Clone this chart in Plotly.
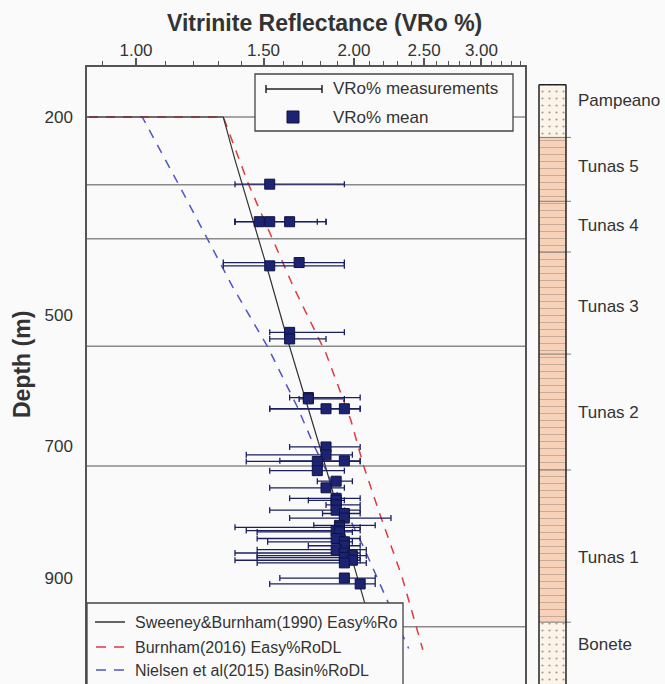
import plotly.graph_objects as go

# ---------------- data ----------------
# VRo measurements: depth (m), mean, min, max (VRo %)
depth = [302, 359, 359, 359, 421, 426, 527, 537, 626, 628, 643, 643, 701, 713, 722, 723,
         737, 753, 763, 779, 782, 789, 797, 802, 809, 820, 823, 828, 830, 840, 845, 851,
         857, 862, 866, 869, 873, 877, 900, 909]
vro_mean = [1.53, 1.48, 1.53, 1.63, 1.68, 1.53, 1.63, 1.63, 1.73, 1.73, 1.83, 1.94, 1.83, 1.83, 1.94, 1.78,
            1.78, 1.89, 1.83, 1.89, 1.89, 1.89, 1.89, 1.94, 1.94, 1.91, 1.91, 1.89, 1.91, 1.89, 1.94, 1.94,
            1.89, 1.94, 1.99, 1.94, 1.99, 1.94, 1.94, 2.04]
vro_min = [1.37, 1.37, 1.37, 1.37, 1.32, 1.32, 1.53, 1.53, 1.63, 1.68, 1.53, 1.53, 1.63, 1.42, 1.58, 1.42,
           1.53, 1.78, 1.53, 1.63, 1.73, 1.83, 1.53, 1.81, 1.63, 1.76, 1.37, 1.42, 1.47, 1.47, 1.52, 1.73,
           1.47, 1.37, 1.47, 1.47, 1.37, 1.47, 1.58, 1.53]
vro_max = [1.94, 1.78, 1.83, 1.83, 1.94, 1.94, 1.94, 1.83, 2.04, 1.94, 2.04, 2.04, 2.04, 1.99, 2.04, 2.04,
           1.94, 1.99, 1.94, 2.04, 1.94, 2.04, 2.04, 2.04, 2.25, 2.14, 2.04, 2.04, 1.99, 2.04, 1.99, 2.04,
           2.08, 2.04, 2.08, 2.04, 2.04, 2.08, 2.14, 2.14]

# Model curves
sb_depth = [200, 200, 265, 432, 539, 706, 938, 1009]
sb_vro = [0.2, 1.32, 1.37, 1.52, 1.62, 1.80, 2.07, 2.16]
bu_depth = [200, 200, 302, 458, 559, 660, 728, 802, 898, 1009]
bu_vro = [0.2, 1.32, 1.43, 1.65, 1.83, 1.98, 2.06, 2.17, 2.33, 2.49]
ni_depth = [200, 200, 306, 382, 458, 549, 640, 698, 852, 1007]
ni_vro = [0.2, 1.02, 1.15, 1.25, 1.36, 1.52, 1.67, 1.76, 2.06, 2.38]

# Formation boundary lines in the profile (m)
boundary_depths = [200, 303, 385, 548, 730, 974]

# Lithology column
units = ["Pampeano", "Tunas 5", "Tunas 4", "Tunas 3", "Tunas 2", "Tunas 1", "Bonete"]
unit_top = [151, 231, 328, 405, 560, 736, 967]
unit_base = [231, 328, 405, 560, 736, 967, 1100]

# Axis ticks
x_ticks = [1.0, 1.5, 2.0, 2.5, 3.0]
x_ticklabels = ["1.00", "1.50", "2.00", "2.50", "3.00"]
x_minor = [0.9, 1.1, 1.2, 1.3, 1.4, 1.6, 1.7, 1.8, 1.9, 2.1, 2.2, 2.3, 2.4,
           2.6, 2.7, 2.8, 2.9, 3.1, 3.2, 3.3, 3.4]
y_ticks = [200, 500, 700, 900]

# ---------------- layout helpers ----------------
W, H, L, T = 665, 684, 87, 67
PW, PH = W - L, H - T


def px(x):
    return (x - L) / PW


def py(y):
    return (H - y) / PH


FONT = "Liberation Sans, Arial, sans-serif"
TXT = "#333333"
BG = "#fafafa"
NAVY = "#1c2472"

fig = go.Figure()

# model curves
fig.add_trace(go.Scatter(x=ni_vro, y=ni_depth, mode="lines", showlegend=False,
                         line=dict(color="#4f55c4", width=1.5, dash="9px,8px")))
fig.add_trace(go.Scatter(x=bu_vro, y=bu_depth, mode="lines", showlegend=False,
                         line=dict(color="#e0393e", width=1.5, dash="9px,8px")))
fig.add_trace(go.Scatter(x=sb_vro, y=sb_depth, mode="lines", showlegend=False,
                         line=dict(color="#333333", width=1.2)))

# measurements
fig.add_trace(go.Scatter(
    x=vro_mean, y=depth, mode="markers", showlegend=False,
    marker=dict(symbol="square", size=10, color=NAVY, line=dict(color="#0e1345", width=1)),
    error_x=dict(type="data", symmetric=False,
                 array=[hi - m for hi, m in zip(vro_max, vro_mean)],
                 arrayminus=[m - lo for m, lo in zip(vro_mean, vro_min)],
                 color="#1b2060", thickness=1.3, width=3)))

# lithology column
fig.add_trace(go.Bar(
    x=[0.5] * len(units), y=[b - t for t, b in zip(unit_top, unit_base)], base=unit_top,
    width=1, xaxis="x2", yaxis="y", showlegend=False, hoverinfo="skip",
    marker=dict(color=["#fcf4e8", "#f8d2b8", "#f8d2b8", "#f8d2b8", "#f8d2b8", "#f8d2b8", "#fcf4e8"],
                line=dict(width=0),
                pattern=dict(shape=[".", "-", "-", "-", "-", "-", "."], fillmode="overlay",
                             fgcolor="#ebc3a6", size=7, solidity=0.08))))

shapes = []
for d in boundary_depths:
    shapes.append(dict(type="line", xref="x domain", yref="y", x0=0, x1=1, y0=d, y1=d,
                       line=dict(color="#8a8a8a", width=1.5), layer="below"))
# column boundaries with stubs
for d in unit_top[1:]:
    shapes.append(dict(type="line", xref="paper", yref="y", x0=px(539), x1=px(571), y0=d, y1=d,
                       line=dict(color="#7a7a7a", width=1)))
shapes.append(dict(type="line", xref="paper", yref="y", x0=px(539), x1=px(566),
                   y0=unit_top[0], y1=unit_top[0], line=dict(color="#222", width=1.5)))
shapes.append(dict(type="line", xref="paper", yref="paper", x0=px(539), x1=px(539),
                   y0=py(84.5), y1=-0.01, line=dict(color="#222", width=1.5)))
shapes.append(dict(type="line", xref="paper", yref="paper", x0=px(566), x1=px(566),
                   y0=py(84.5), y1=-0.01, line=dict(color="#222", width=1.5)))

# top legend
shapes.append(dict(type="rect", xref="paper", yref="paper", x0=px(255), x1=px(513), y0=py(74), y1=py(131),
                   fillcolor=BG, line=dict(color="#444", width=1.3)))
shapes.append(dict(type="line", xref="paper", yref="paper", x0=px(266), x1=px(322), y0=py(89), y1=py(89),
                   line=dict(color="#222", width=1.5)))
for xc in (266, 322):
    shapes.append(dict(type="line", xref="paper", yref="paper", x0=px(xc), x1=px(xc), y0=py(85), y1=py(93),
                       line=dict(color="#222", width=1.5)))
shapes.append(dict(type="rect", xref="paper", yref="paper", x0=px(287), x1=px(299), y0=py(111), y1=py(123),
                   fillcolor=NAVY, line=dict(color="#0e1345", width=1)))

# bottom legend
shapes.append(dict(type="rect", xref="paper", yref="paper", x0=px(87), x1=px(403), y0=py(603), y1=-0.05,
                   fillcolor=BG, line=dict(color="#444", width=1.3)))
shapes.append(dict(type="line", xref="paper", yref="paper", x0=px(95), x1=px(125), y0=py(622), y1=py(622),
                   line=dict(color="#333", width=1.5)))
shapes.append(dict(type="line", xref="paper", yref="paper", x0=px(96), x1=px(126), y0=py(647), y1=py(647),
                   line=dict(color="#e0393e", width=1.5, dash="10px,8px")))
shapes.append(dict(type="line", xref="paper", yref="paper", x0=px(96), x1=px(126), y0=py(670), y1=py(670),
                   line=dict(color="#4f55c4", width=1.5, dash="10px,8px")))

annotations = []


def ann(text, x, y, size=17, bold=False, xanchor="left", angle=0):
    annotations.append(dict(text=("<b>%s</b>" % text) if bold else text, xref="paper", yref="paper",
                            x=px(x), y=py(y), xanchor=xanchor, yanchor="middle", showarrow=False,
                            textangle=angle, font=dict(family=FONT, size=size, color=TXT)))


ann("Vitrinite Reflectance (VRo %)", 324, 23, size=23, bold=True, xanchor="center")
ann("Depth (m)", 22, 365, size=23, bold=True, xanchor="center", angle=-90)
ann("VRo% measurements", 331, 89)
ann("VRo% mean", 331, 117)
ann("Sweeney&amp;Burnham(1990) Easy%Ro", 133, 622, size=16)
ann("Burnham(2016) Easy%RoDL", 133, 647, size=16)
ann("Nielsen et al(2015) Basin%RoDL", 133, 670, size=16)
label_y = [100, 166, 225, 306, 412, 557, 644]
for name, yy in zip(units, label_y):
    ann(name, 576, yy)

fig.update_layout(
    width=W, height=H, margin=dict(l=L, r=0, t=T, b=0),
    paper_bgcolor=BG, plot_bgcolor=BG, showlegend=False, barmode="overlay",
    font=dict(family=FONT, color=TXT),
    xaxis=dict(type="log", side="top", anchor="y", domain=[0, px(525)],
               range=[-0.0677, 0.5373], showline=True, linecolor="#555", linewidth=1.5,
               ticks="outside", ticklen=7, tickwidth=1.5, tickcolor="#555",
               tickvals=x_ticks, ticktext=x_ticklabels, tickfont=dict(size=17, color=TXT),
               ticklabelstandoff=-5,
               showgrid=False, zeroline=False,
               minor=dict(tickmode="array", tickvals=x_minor, ticks="outside", ticklen=4,
                          tickwidth=1, tickcolor="#555", showgrid=False)),
    xaxis2=dict(domain=[px(539), px(566)], range=[0, 1], anchor="y", visible=False,
                showgrid=False, zeroline=False),
    yaxis=dict(range=[1060.9, 124.1], domain=[0, 1], anchor="x", showline=True, mirror=True,
               linecolor="#555", linewidth=1.5, ticks="outside", ticklen=9,
               tickcolor="rgba(0,0,0,0)", tickvals=y_ticks, tickfont=dict(size=17, color=TXT),
               showgrid=False, zeroline=False),
    shapes=shapes, annotations=annotations,
)

fig.write_html("out.html")
